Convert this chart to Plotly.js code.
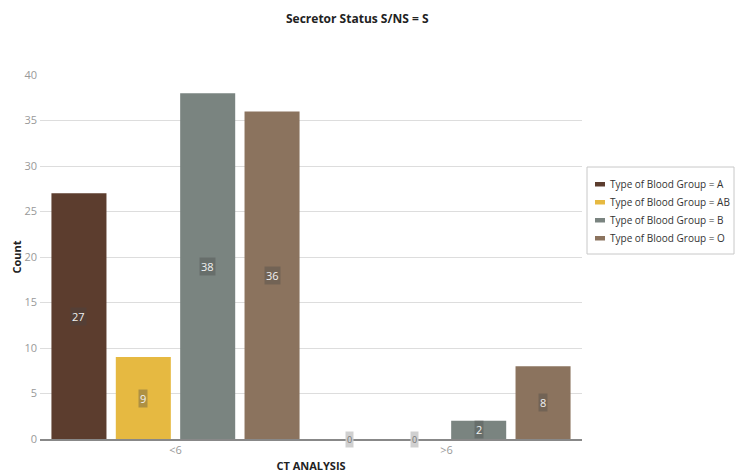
<!DOCTYPE html>
<html>
<head>
<meta charset="utf-8">
<script src="https://cdn.plot.ly/plotly-3.0.1.min.js"></script>
<style>html,body{margin:0;padding:0;background:#fff}#chart{width:736px;height:473px}</style>
</head>
<body>
<div id="chart"></div>
<script>
const categories = ["<6", ">6"];
const seriesNames = ["Type of Blood Group = A", "Type of Blood Group = AB", "Type of Blood Group = B", "Type of Blood Group = O"];
const valuesA = [27, 0];
const valuesAB = [9, 0];
const valuesB = [38, 2];
const valuesO = [36, 8];
const colors = ["#5c3d2e", "#e6b941", "#7a8480", "#8b735e"];
const allValues = [valuesA, valuesAB, valuesB, valuesO];

const W = 736, H = 473;
const margin = {l: 40, r: 154, t: 75, b: 34};
const bargap = 0.05;
const plotW = W - margin.l - margin.r;
const plotH = H - margin.t - margin.b;
const catW = plotW / categories.length;
const slotW = catW * (1 - bargap) / allValues.length;
const px = x => (x - margin.l) / plotW;
const py = y => (H - margin.b - y) / plotH;

const traces = allValues.map((vals, i) => ({
  type: 'bar',
  name: seriesNames[i],
  x: categories,
  y: vals,
  marker: {color: colors[i], line: {width: 0}},
  hoverinfo: 'none',
  showlegend: false
}));

const annotations = [];
const shapes = [];
allValues.forEach((vals, i) => {
  vals.forEach((v, j) => {
    const zero = v === 0;
    annotations.push({
      x: categories[j], y: v / 2, xref: 'x', yref: 'y',
      xshift: (i - (allValues.length - 1) / 2) * slotW,
      text: String(v), showarrow: false,
      font: {color: zero ? '#777' : '#f2f2f2', size: zero ? 9 : 11, family: 'Open Sans, sans-serif'},
      bgcolor: zero ? 'rgba(205,205,205,0.95)' : 'rgba(70,70,70,0.35)',
      borderpad: 1
    });
  });
});

annotations.push({
  text: 'Secretor Status S/NS = S', xref: 'paper', yref: 'paper', x: px(357), y: 1,
  yanchor: 'middle', yshift: 57, showarrow: false,
  font: {size: 12, color: '#222', family: 'Open Sans, sans-serif', weight: 'bold'}
});

// custom legend
const legTop = 167, legBottom = 254, legLeft = 587, legRight = 734;
shapes.push({type: 'rect', xref: 'paper', yref: 'paper', x0: px(legLeft), x1: px(legRight),
  y0: py(legBottom), y1: py(legTop), line: {color: '#c8c8c8', width: 1}, fillcolor: '#fff', layer: 'above'});
seriesNames.forEach((name, i) => {
  const rowY = 184 + i * 18;
  shapes.push({type: 'rect', xref: 'paper', yref: 'paper', x0: px(595), x1: px(605),
    y0: py(rowY + 2.5), y1: py(rowY - 2), line: {width: 0}, fillcolor: colors[i], layer: 'above'});
  annotations.push({text: name, xref: 'paper', yref: 'paper', x: px(608), y: py(rowY),
    xanchor: 'left', yanchor: 'middle', showarrow: false,
    font: {size: 10, color: '#333', family: 'Open Sans, sans-serif'}});
});

const layout = {
  width: W, height: H,
  margin: margin,
  paper_bgcolor: '#fff', plot_bgcolor: '#fff',
  barmode: 'group', bargap: bargap, bargroupgap: 0.145,
  font: {family: 'Open Sans, sans-serif', size: 11, color: '#999'},
  showlegend: false,
  xaxis: {
    type: 'category', showgrid: false, showline: true, linecolor: '#888', linewidth: 1.5,
    ticks: '', tickfont: {size: 11, color: '#999'},
    title: {text: 'CT ANALYSIS', font: {size: 11, color: '#222', weight: 'bold'}, standoff: 6}
  },
  yaxis: {
    range: [0, 40], dtick: 5, showgrid: true, gridcolor: '#dddddd', zeroline: false,
    ticks: '', ticklabelstandoff: 2, tickfont: {size: 11, color: '#999'},
    title: {text: 'Count', font: {size: 11, color: '#222', weight: 'bold'}, standoff: 0}
  },
  shapes: shapes,
  annotations: annotations
};

Plotly.newPlot('chart', traces, layout, {displayModeBar: false, staticPlot: true});
</script>
</body>
</html>
